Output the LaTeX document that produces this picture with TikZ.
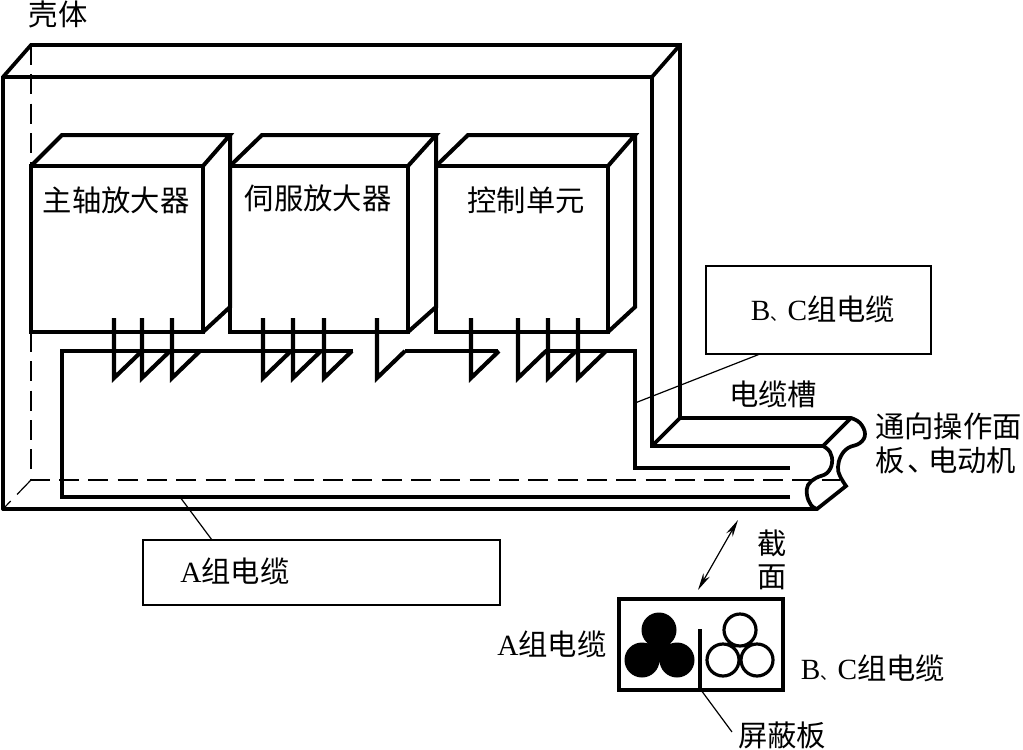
\documentclass[tikz,border=0pt]{standalone}
\usepackage{fontspec}
\setmainfont{Liberation Serif}
\newfontfamily\cjk{Noto Sans CJK SC}
\usetikzlibrary{arrows.meta}
\newcommand{\zh}[1]{{\cjk #1}}
\newcommand{\dun}{{\cjk\fontsize{13}{13}\selectfont 、}}
\tikzset{
  heavy/.style={line width=3pt,line join=miter,line cap=round},
  shell/.style={line width=2.8pt,line join=miter,line cap=round},
  cable/.style={line width=3.6pt,line join=miter},
  tick/.style={line width=3.1pt,line join=miter},
  thin line/.style={line width=0.9pt},
  hidden/.style={line width=0.9pt,dash pattern=on 15pt off 7pt},
  labelbox/.style={draw,line width=0.8pt,inner sep=0pt},
  txt/.style={inner sep=0pt,font=\fontsize{22}{26}\selectfont},
}
\begin{document}
\begin{tikzpicture}[x=0.75pt,y=-0.75pt]
\useasboundingbox (0,0) rectangle (1023,749);
% hidden edges
\coordinate (sBackTL) at (31,45);
\coordinate (sBackBL) at (31,480);
\coordinate (sFrontBL) at (3,509);
\draw[hidden] (sBackTL) -- (31,165);
\draw[hidden] (31,332) -- (sBackBL) -- (840,480);
\draw[hidden] (sBackBL) -- (sFrontBL);
% shell
\coordinate (sFrontTL) at (3,77);
\coordinate (sFrontTR) at (652,77);
\coordinate (sBackTR) at (680,45);
\draw[shell] (sFrontBL) -- (sFrontTL) -- (sBackTL) -- (sBackTR) -- (680,418) -- (851,418);
\draw[shell] (sFrontTL) -- (sFrontTR) -- (sBackTR);
\draw[shell] (sFrontTR) -- (652,446) -- (823,446);
\draw[shell] (680,418) -- (652,446);
\draw[shell] (851,418) -- (823,446);
\draw[shell] (sFrontBL) -- (817,509);
% break of trough
\draw[shell] plot[smooth,tension=0.7] coordinates {(851,418) (860,423) (865,434) (860,443) (848,448) (841,456) (838,467) (840,476) (846,486)} -- (817,509);
\draw[shell] plot[smooth,tension=0.7] coordinates {(823,446) (830,452) (832,463) (827,473) (816,478) (808,485) (807,495) (811,505) (817,509)};
% boxes
\draw[heavy] (31,332) -- (31,166) -- (203,166) -- (203,332) -- cycle;
\draw[heavy] (31,166) -- (62,135) -- (230,135) -- (203,166);
\draw[heavy] (230,135) -- (230,307) -- (203,332);
\draw[heavy] (230,332) -- (230,166) -- (408,166) -- (408,332) -- cycle;
\draw[heavy] (230,166) -- (262,135) -- (436,135) -- (408,166);
\draw[heavy] (436,135) -- (436,307) -- (408,332);
\draw[heavy] (436,332) -- (436,166) -- (608,166) -- (608,332) -- cycle;
\draw[heavy] (436,166) -- (468,135) -- (635,135) -- (608,166);
\draw[heavy] (635,135) -- (635,307) -- (608,332);
% cables
\draw[cable] (790,497) -- (62,497) -- (62,351) -- (353,351);
\draw[cable] (405,351) -- (498,351);
\draw[cable] (545,351) -- (635,351) -- (635,468) -- (790,468);
% connector ticks
\foreach \tx in {114,142,172,263,293,324,377,471,518,548,578}{
  \draw[tick] (\tx,318) -- (\tx,378) -- ++(28,-27);
}
% label boxes
\node[labelbox,minimum width=168.75pt,minimum height=66pt] (boxBC) at (818.5,310) {};
\node[labelbox,minimum width=267.75pt,minimum height=48.75pt] (boxA) at (321.5,572.5) {};
\coordinate (cableA) at (180,497);
\coordinate (cableBC) at (635,403);
\draw[thin line] (cableA) -- (212,540);
\draw[thin line] (cableBC) -- (760,354);
% section
\draw[heavy,line cap=butt] (619,599) rectangle (783,690);
\draw[line width=2.6pt] (700,629) -- (700,690);
\coordinate (shieldFoot) at (701,690);
\coordinate (shieldLabel) at (732,732);
\draw[thin line] (shieldFoot) -- (shieldLabel);
\fill (659,630) circle[radius=17.5] (642,660) circle[radius=17.5] (677,660) circle[radius=17.5];
\fill (659,630) -- (642,660) -- (677,660) -- cycle;
\draw[line width=2.4pt] (740,630) circle[radius=16] (723,660) circle[radius=16] (757,660) circle[radius=16];
\coordinate (arrA) at (738,520);
\coordinate (arrB) at (698,590);
\draw[thin line,{Stealth[length=13pt,width=5.5pt]}-{Stealth[length=13pt,width=5.5pt]}] (arrB) -- (arrA);
% texts
\node[txt] (t1) at (58,14) {\zh{壳体}};
\node[txt] (t2) at (116,200) {\zh{主轴放大器}};
\node[txt] (t3) at (318,198) {\zh{伺服放大器}};
\node[txt] (t4) at (526,200) {\zh{控制单元}};
\node[txt] (t5) at (823,309) {B\dun C\zh{组电缆}};
\node[txt] (t6) at (773,394) {\zh{电缆槽}};
\node[txt,anchor=west] (t7) at (875,426) {\zh{通向操作面}};
\node[txt,anchor=west] (t8) at (875,460) {\zh{板}\hspace{0.1em}{\cjk 、}\hspace{-0.3em}\zh{电动机}};
\node[txt] (t9) at (235,571) {A\zh{组电缆}};
\node[txt] (t10) at (772,543) {\zh{截}};
\node[txt] (t11) at (772,577) {\zh{面}};
\node[txt] (t12) at (552,644) {A\zh{组电缆}};
\node[txt] (t13) at (873,668) {B\dun C\zh{组电缆}};
\node[txt] (t14) at (782,735) {\zh{屏蔽板}};
\end{tikzpicture}
\end{document}
